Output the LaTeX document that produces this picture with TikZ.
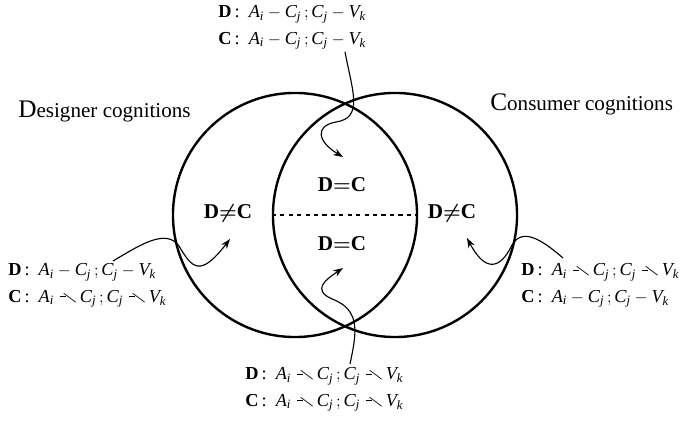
\documentclass[tikz,border=0pt]{standalone}
\usepackage{amssymb}
\usepackage{graphicx}
\usepackage{fontspec}
\setmainfont{Liberation Serif}
\usetikzlibrary{positioning,arrows.meta}
\newcommand{\sym}[2]{\mathit{#1}_{\mathit{#2}}}
\newcommand{\nolink}{\mkern6mu\rule[0.62ex]{0.36em}{0.55pt}\mkern-5mu\scalebox{1.15}{$\smallsetminus$}\mkern2mu}
\newcommand{\pairline}[3]{\textbf{#1}\,:\ \ $\sym{A}{i}#2\sym{C}{j}\,;\sym{C}{j}#3\sym{V}{k}$}

\begin{document}
\begin{tikzpicture}[x=0.025cm, y=-0.025cm,
      cognset/.style={circle, draw, line width=1.7pt, minimum size=6.1cm, inner sep=0pt},
      relbox/.style={font=\fontsize{15}{15}\selectfont\bfseries, inner sep=0pt},
      groupname/.style={font=\fontsize{15}{15}\selectfont, inner sep=0pt, anchor=west},
      pairbox/.style={font=\fontsize{13}{19}\selectfont, align=left, inner sep=0pt, anchor=north west},
      pointer/.style={-{Stealth[length=7pt, width=5pt]}, line width=0.8pt}
    ]
      \useasboundingbox (0,0) rectangle (688,420);
      % the two sets of cognitions
      \node[cognset] (dsgn) at (295,215) {};
      \node[cognset] (cons) at (395,215) {};
      \draw[dashed, line width=0.8pt] (cons.west) -- (dsgn.east);
      % relations inside the regions
      \node[relbox] (dneq) at (228,213) {D{\boldmath$\neq$}C};
      \node[relbox] (equp) at (342,185) {D{\boldmath$=$}C};
      \node[relbox] (eqlow) at (342,244) {D{\boldmath$=$}C};
      \node[relbox] (cneq) at (452,213) {D{\boldmath$\neq$}C};
      % group names
      \node[groupname] (dname) at (18,111) {{\fontsize{18}{18}\selectfont D}esigner cognitions};
      \node[groupname] (cname) at (490,104) {{\fontsize{18}{18}\selectfont C}onsumer cognitions};
      % pair relations
      \node[pairbox] (ptop) at (218,5) {\pairline{D}{-}{-}\\\pairline{C}{-}{-}};
      \node[pairbox] (pleft) at (8,263) {\pairline{D}{-}{-}\\\pairline{C}{\nolink}{\nolink}};
      \node[pairbox] (pright) at (521,263) {\pairline{D}{\nolink}{\nolink}\\\pairline{C}{-}{-}};
      \node[pairbox] (pbot) at (245,367) {\pairline{D}{\nolink}{\nolink}\\\pairline{C}{\nolink}{\nolink}};
      % pointers
      \coordinate (tipup) at (343,157);
      \coordinate (tiplow) at (343,268);
      \coordinate (tipleft) at (230,239);
      \coordinate (tipright) at (467,238);
      \draw[pointer] (ptop.south -| tipup) ++(2,2) .. controls (352,90) and (364,118) .. (336,122)
        .. controls (314,126) and (318,142) .. (tipup);
      \draw[pointer] (pbot.north -| tiplow) ++(7,-3) .. controls (356,335) and (362,310) .. (332,299)
        .. controls (312,290) and (325,280) .. (tiplow);
      \draw[pointer] (113,261) .. controls (140,245) and (166,228) .. (179,246)
        .. controls (192,268) and (200,278) .. (tipleft);
      \draw[pointer] (563,258) .. controls (540,238) and (522,228) .. (512,245)
        .. controls (500,270) and (485,272) .. (tipright);
    \end{tikzpicture}
\end{document}
